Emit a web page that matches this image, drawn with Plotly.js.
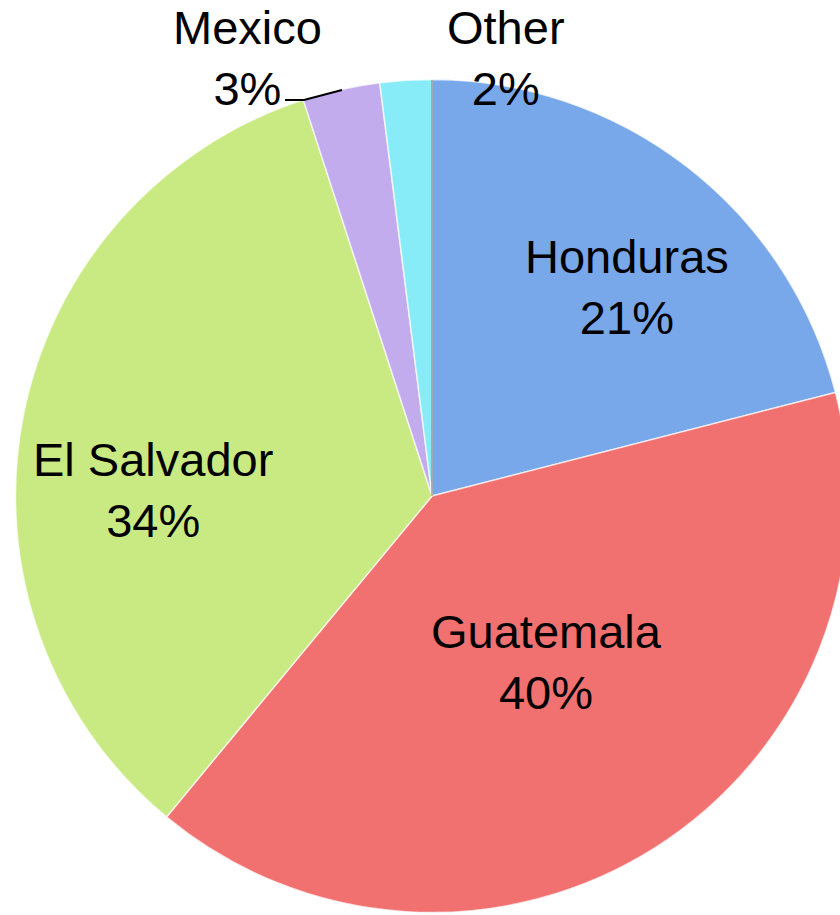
<!DOCTYPE html>
<html>
<head>
<meta charset="utf-8">
<script src="https://cdn.plot.ly/plotly-3.0.1.min.js"></script>
<style>
  html, body { margin: 0; padding: 0; background: #ffffff; overflow: hidden; width: 840px; height: 915px; }
  #chart { width: 864px; height: 915px; }
</style>
</head>
<body>
<div id="chart"></div>
<script>
// Data
const countries = ["Honduras", "Guatemala", "El Salvador", "Mexico", "Other"];
const shares = [21, 40, 34, 3, 2];
const sliceColors = ["#78a7ea", "#f0716f", "#c9ea82", "#c2acee", "#88ecf8"];

const W = 864, H = 915;
const px = x => x / W;
const py = y => 1 - y / H;

const trace = {
  type: "pie",
  labels: countries,
  values: shares,
  sort: false,
  direction: "clockwise",
  rotation: 0,
  marker: { colors: sliceColors, line: { color: "rgba(255,255,255,0.7)", width: 1.5 } },
  textinfo: "none",
  textposition: "none",
  hoverinfo: "label+percent",
  domain: { x: [0, 1], y: [1 - 912.5 / H, 1 - 79.5 / H] },
  showlegend: false
};

// Label placement (pixel centres of each two-line label block)
const labelSpots = {
  "Honduras": [627, 287],
  "Guatemala": [546, 662],
  "El Salvador": [153, 490],
  "Mexico": [247, 58],
  "Other": [506, 58]
};
const total = shares.reduce((a, b) => a + b, 0);
const annotations = countries.map((c, i) => ({
  text: c + "<br>" + Math.round(shares[i] / total * 100) + "%",
  x: px(labelSpots[c][0]), y: py(labelSpots[c][1]),
  xref: "paper", yref: "paper", showarrow: false,
  xanchor: "center", yanchor: "middle",
  font: { family: "Liberation Sans, Arial, sans-serif", size: 47, color: "#000000" }
}));

const layout = {
  width: W, height: H,
  margin: { l: 0, r: 0, t: 0, b: 0 },
  paper_bgcolor: "#ffffff",
  showlegend: false,
  annotations: annotations,
  shapes: [{
    type: "path",
    xref: "paper", yref: "paper",
    path: `M ${px(285)} ${py(100)} L ${px(304)} ${py(100)} L ${px(342)} ${py(90)}`,
    line: { color: "#000000", width: 2 }
  }, {
    type: "line",
    xref: "paper", yref: "paper",
    x0: px(432), x1: px(432), y0: py(80), y1: py(496),
    line: { color: "rgba(0,0,0,0.55)", width: 1 }
  }]
};

Plotly.newPlot("chart", [trace], layout, { displayModeBar: false, staticPlot: true });
</script>
</body>
</html>
